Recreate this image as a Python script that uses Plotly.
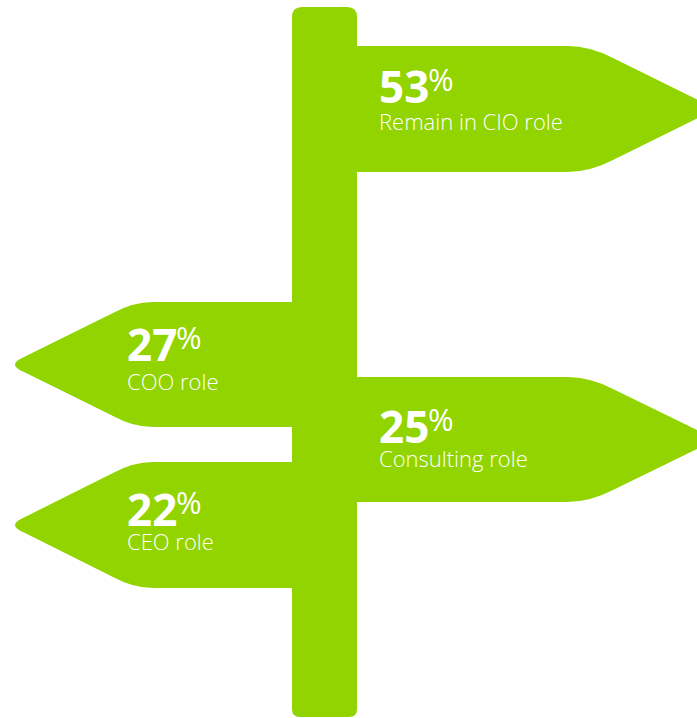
import plotly.graph_objects as go

# ---- data ----
roles = ["Remain in CIO role", "COO role", "Consulting role", "CEO role"]
shares = [53, 27, 25, 22]

# ---- layout / styling (pixel space of a 697x718 canvas) ----
W, H = 697, 718
GREEN = "#92D400"
FONT = "Open Sans"

# each sign: direction, top, bottom, text x
signs = [
    dict(dir="right", top=46, bottom=172, tx=377),
    dict(dir="left", top=302, bottom=427, tx=125),
    dict(dir="right", top=377, bottom=502, tx=377),
    dict(dir="left", top=462, bottom=588, tx=125),
]
POLE_L, POLE_R, POLE_TOP, POLE_BOT = 292, 357, 7, 717


def sign_path(s):
    t, b = s["top"], s["bottom"]
    m = (t + b) / 2
    if s["dir"] == "right":
        base, flat, ce = 330, 567, 613
        ctrl = 590
        tip_in, tip = 700, 717
        d = (f"M {base},{t} L {flat},{t} Q {ctrl},{t} {ce},{t+12} "
             f"L {tip_in},{m-8} Q {tip},{m} {tip_in},{m+8} "
             f"L {ce},{b-12} Q {ctrl},{b} {flat},{b} L {base},{b} Z")
    else:
        base, flat, ce = 310, 153, 113
        ctrl = 133
        tip_in, tip = 24, 6
        d = (f"M {base},{t} L {flat},{t} Q {ctrl},{t} {ce},{t+11} "
             f"L {tip_in},{m-7.5} Q {tip},{m} {tip_in},{m+7.5} "
             f"L {ce},{b-11} Q {ctrl},{b} {flat},{b} L {base},{b} Z")
    return d


shapes = []
for s in signs:
    shapes.append(dict(type="path", xref="x", yref="y", path=sign_path(s),
                       fillcolor=GREEN, line=dict(width=0), layer="below"))

r = 10
pole = (f"M {POLE_L},{POLE_BOT-8} L {POLE_L},{POLE_TOP+r} "
        f"Q {POLE_L},{POLE_TOP} {POLE_L+r},{POLE_TOP} L {POLE_R-r},{POLE_TOP} "
        f"Q {POLE_R},{POLE_TOP} {POLE_R},{POLE_TOP+r} L {POLE_R},{POLE_BOT-8} "
        f"Q {POLE_R},{POLE_BOT} {POLE_R-8},{POLE_BOT} L {POLE_L+8},{POLE_BOT} "
        f"Q {POLE_L},{POLE_BOT} {POLE_L},{POLE_BOT-8} Z")
shapes.append(dict(type="path", xref="x", yref="y", path=pole,
                   fillcolor=GREEN, line=dict(width=0), layer="below"))

# text vertical centres per sign (digits, label)
num_y = [86, 344, 425.5, 509]
lab_y = [121, 381, 458, 541]

annotations = []
for s, role, val, ny, ly in zip(signs, roles, shares, num_y, lab_y):
    annotations.append(dict(x=s["tx"], y=ny, xref="x", yref="y", text=f"<b>{val}</b>",
                            showarrow=False, xanchor="left", yanchor="middle",
                            font=dict(family=FONT, size=44, color="white")))
    annotations.append(dict(x=s["tx"] + 49, y=ny - 7, xref="x", yref="y", text="%",
                            showarrow=False, xanchor="left", yanchor="middle",
                            font=dict(family=FONT, size=31, color="white")))
    annotations.append(dict(x=s["tx"], y=ly, xref="x", yref="y", text=role,
                            showarrow=False, xanchor="left", yanchor="middle",
                            font=dict(family=FONT, size=22, color="white", weight=300)))

fig = go.Figure()
fig.add_trace(go.Scatter(x=[0, W], y=[0, H], mode="markers",
                         marker=dict(opacity=0), hoverinfo="skip", showlegend=False))
fig.update_layout(
    width=W, height=H,
    margin=dict(l=0, r=0, t=0, b=0),
    paper_bgcolor="white", plot_bgcolor="white",
    xaxis=dict(range=[0, W], visible=False, fixedrange=True),
    yaxis=dict(range=[H, 0], visible=False, fixedrange=True),
    shapes=shapes, annotations=annotations, showlegend=False,
)
fig.write_html("out.html", config=dict(displayModeBar=False),
               post_script="document.body.style.margin='0';document.body.style.overflow='hidden';")
